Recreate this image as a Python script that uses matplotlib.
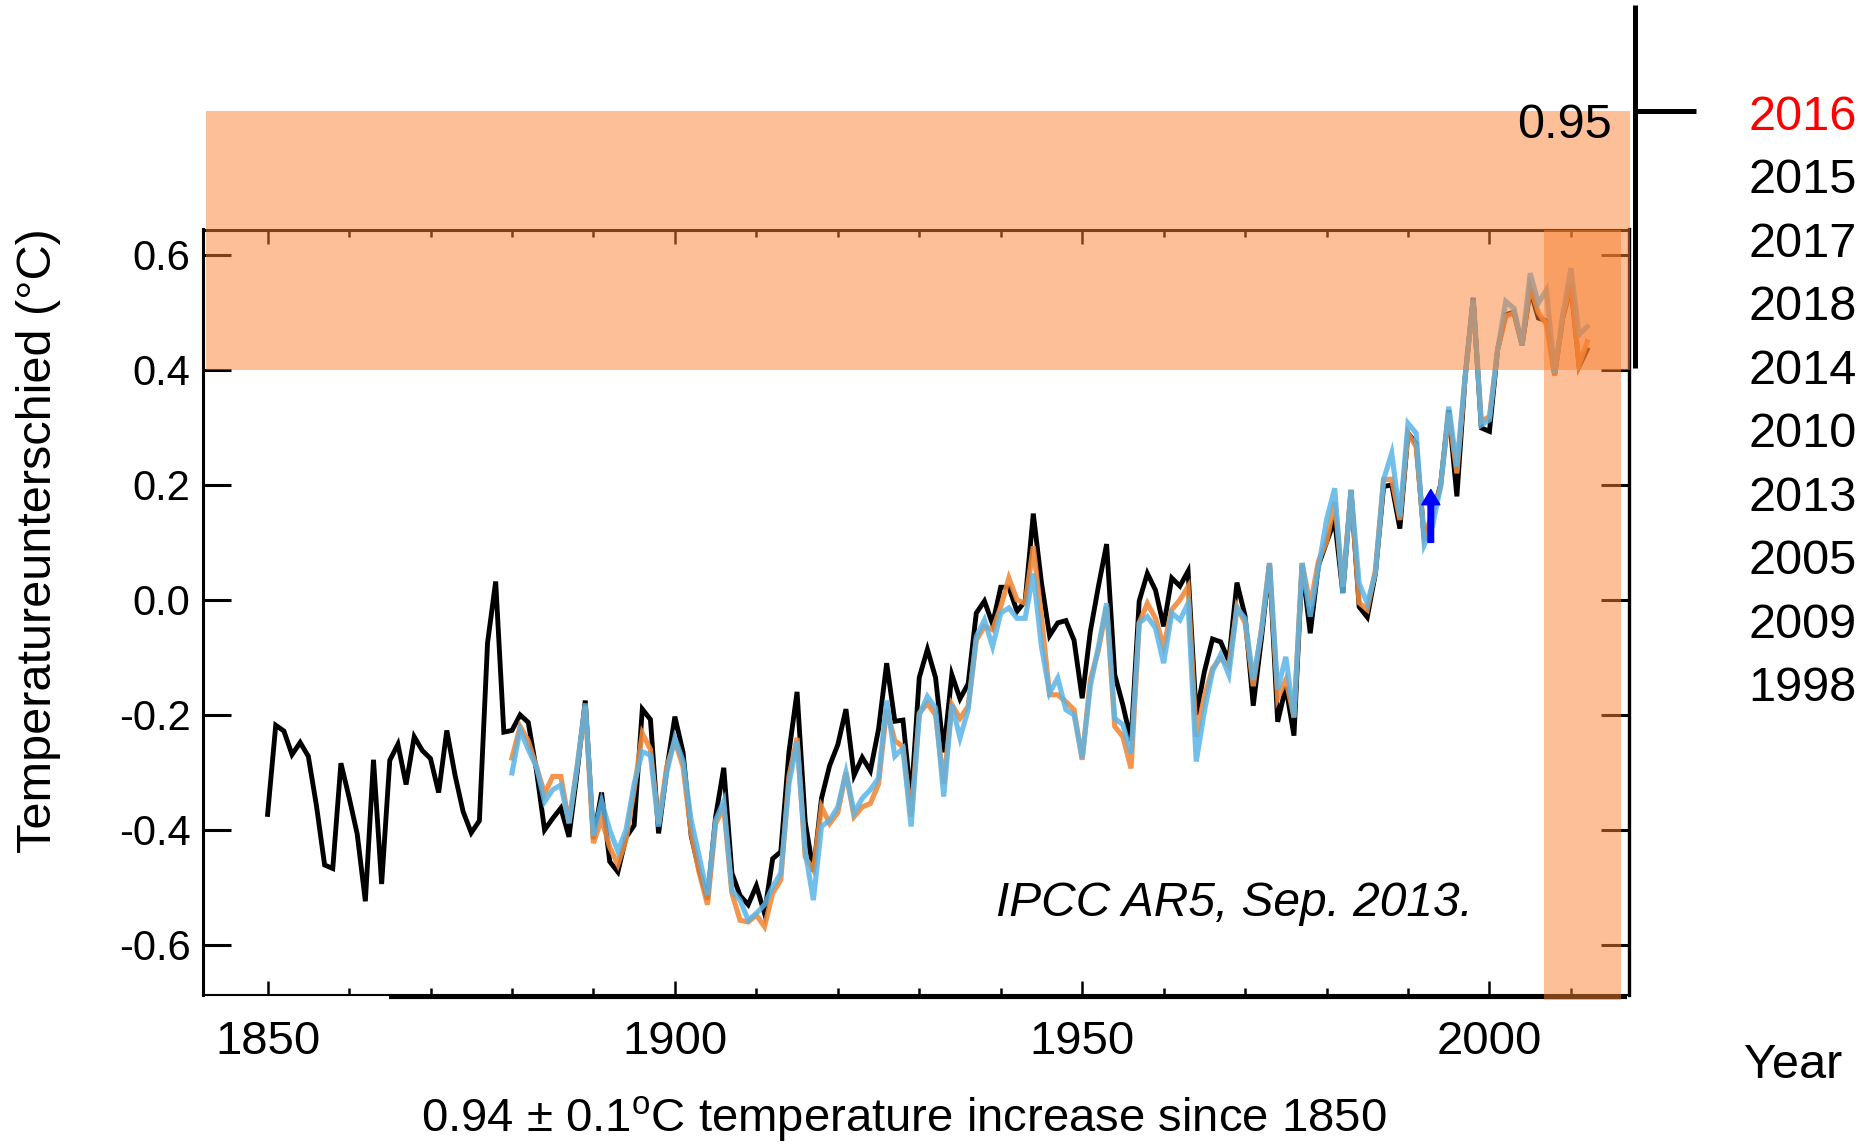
import matplotlib
matplotlib.use('Agg')
import matplotlib.pyplot as plt
from matplotlib.patches import Rectangle
from matplotlib.lines import Line2D
from matplotlib.ticker import MultipleLocator

plt.rcParams['font.family'] = ['Liberation Sans', 'DejaVu Sans']
plt.rcParams['mathtext.fontset'] = 'custom'
plt.rcParams['mathtext.rm'] = 'Liberation Sans'
plt.rcParams['mathtext.it'] = 'Liberation Sans:italic'

# ---------------- data ----------------
years_black = list(range(1850, 2013))
black_vals = [
    -0.373, -0.218, -0.228, -0.269, -0.248, -0.272, -0.358, -0.461, -0.467, -0.284,   # 1850-1859
    -0.343, -0.407, -0.524, -0.278, -0.494, -0.279, -0.251, -0.321, -0.238, -0.262,   # 1860-1869
    -0.276, -0.335, -0.227, -0.304, -0.368, -0.405, -0.384, -0.075, 0.032, -0.230,    # 1870-1879
    -0.227, -0.200, -0.213, -0.296, -0.400, -0.380, -0.362, -0.412, -0.300, -0.175,   # 1880-1889
    -0.416, -0.335, -0.455, -0.473, -0.413, -0.392, -0.190, -0.208, -0.406, -0.295,   # 1890-1899
    -0.203, -0.265, -0.410, -0.472, -0.521, -0.377, -0.292, -0.475, -0.514, -0.530,   # 1900-1909
    -0.497, -0.545, -0.450, -0.438, -0.265, -0.160, -0.386, -0.472, -0.345, -0.288,   # 1910-1919
    -0.252, -0.190, -0.305, -0.274, -0.297, -0.225, -0.110, -0.211, -0.209, -0.349,   # 1920-1929
    -0.135, -0.086, -0.135, -0.265, -0.130, -0.172, -0.146, -0.023, -0.002, -0.042,   # 1930-1939
    0.022, 0.022, -0.020, -0.002, 0.150, 0.030, -0.062, -0.040, -0.036, -0.070,       # 1940-1949
    -0.171, -0.055, 0.024, 0.097, -0.130, -0.183, -0.245, -0.002, 0.046, 0.017,       # 1950-1959
    -0.046, 0.038, 0.024, 0.050, -0.200, -0.125, -0.068, -0.073, -0.106, 0.030,       # 1960-1969
    -0.028, -0.184, -0.068, 0.062, -0.212, -0.151, -0.236, 0.060, -0.058, 0.060,      # 1970-1979
    0.100, 0.139, 0.012, 0.191, -0.012, -0.030, 0.046, 0.197, 0.200, 0.124,           # 1980-1989
    0.290, 0.272, 0.104, 0.148, 0.200, 0.330, 0.180, 0.385, 0.525, 0.299,             # 1990-1999
    0.293, 0.435, 0.496, 0.500, 0.443, 0.539, 0.490, 0.485, 0.391, 0.490,             # 2000-2009
    0.545, 0.406, 0.435,                                                              # 2010-2012
]

years_other = list(range(1880, 2013))
orange_vals = [
    -0.275, -0.220, -0.245, -0.290, -0.337, -0.307, -0.307, -0.388, -0.290, -0.185,   # 1880-1889
    -0.423, -0.381, -0.430, -0.460, -0.417, -0.330, -0.232, -0.260, -0.389, -0.290,   # 1890-1899
    -0.245, -0.290, -0.406, -0.475, -0.530, -0.389, -0.360, -0.510, -0.557, -0.560,   # 1900-1909
    -0.548, -0.568, -0.510, -0.487, -0.307, -0.240, -0.447, -0.470, -0.360, -0.389,   # 1910-1919
    -0.370, -0.300, -0.377, -0.360, -0.354, -0.320, -0.190, -0.245, -0.255, -0.377,   # 1920-1929
    -0.197, -0.180, -0.200, -0.320, -0.182, -0.206, -0.185, -0.070, -0.046, -0.052,   # 1930-1939
    -0.012, 0.038, 0.000, -0.006, 0.093, -0.029, -0.165, -0.165, -0.177, -0.191,      # 1940-1949
    -0.278, -0.139, -0.087, -0.012, -0.220, -0.238, -0.293, -0.040, -0.006, -0.032,   # 1950-1959
    -0.081, -0.017, 0.000, 0.023, -0.238, -0.168, -0.119, -0.101, -0.116, -0.012,     # 1960-1969
    -0.040, -0.150, -0.052, 0.064, -0.171, -0.139, -0.203, 0.064, -0.010, 0.067,      # 1970-1979
    0.101, 0.170, 0.023, 0.191, -0.005, -0.017, 0.052, 0.209, 0.210, 0.139,           # 1980-1989
    0.290, 0.266, 0.110, 0.150, 0.197, 0.325, 0.220, 0.385, 0.520, 0.310,             # 1990-1999
    0.319, 0.435, 0.493, 0.499, 0.443, 0.545, 0.500, 0.478, 0.391, 0.493,             # 2000-2009
    0.551, 0.409, 0.449,                                                              # 2010-2012
]
blue_vals = [
    -0.301, -0.226, -0.260, -0.290, -0.351, -0.330, -0.322, -0.388, -0.290, -0.180,   # 1880-1889
    -0.410, -0.350, -0.400, -0.437, -0.400, -0.320, -0.264, -0.270, -0.394, -0.300,   # 1890-1899
    -0.240, -0.280, -0.383, -0.447, -0.513, -0.383, -0.350, -0.505, -0.522, -0.557,   # 1900-1909
    -0.545, -0.530, -0.499, -0.475, -0.320, -0.246, -0.437, -0.522, -0.394, -0.383,   # 1910-1919
    -0.360, -0.300, -0.370, -0.345, -0.330, -0.310, -0.175, -0.272, -0.258, -0.394,   # 1920-1929
    -0.200, -0.168, -0.188, -0.342, -0.182, -0.240, -0.191, -0.064, -0.035, -0.081,   # 1930-1939
    -0.023, -0.014, -0.032, -0.032, 0.046, -0.081, -0.162, -0.136, -0.191, -0.200,    # 1940-1949
    -0.275, -0.150, -0.081, -0.006, -0.206, -0.217, -0.267, -0.040, -0.029, -0.049,   # 1950-1959
    -0.110, -0.023, -0.035, -0.006, -0.281, -0.194, -0.124, -0.095, -0.130, -0.014,   # 1960-1969
    -0.032, -0.139, -0.055, 0.064, -0.156, -0.099, -0.205, 0.064, -0.029, 0.055,      # 1970-1979
    0.139, 0.194, 0.012, 0.191, 0.029, -0.006, 0.046, 0.209, 0.255, 0.145,            # 1980-1989
    0.307, 0.290, 0.096, 0.128, 0.197, 0.336, 0.232, 0.388, 0.525, 0.304,            # 1990-1999
    0.313, 0.435, 0.519, 0.507, 0.443, 0.568, 0.516, 0.539, 0.394, 0.496,            # 2000-2009
    0.577, 0.461, 0.475,                                                              # 2010-2012
]

ytick_vals = [-0.6, -0.4, -0.2, 0.0, 0.2, 0.4, 0.6]
ytick_labels = ['-0.6', '-0.4', '-0.2', '0.0', '0.2', '0.4', '0.6']
xtick_major = [1850, 1900, 1950, 2000]
xtick_labels = ['1850', '1900', '1950', '2000']

ranking_years = ['2016', '2015', '2017', '2018', '2014', '2010', '2013', '2005', '2009', '1998']
ranking_colors = ['#FF0000'] + ['black'] * 9

band_value = '0.95'
arrow_year, arrow_from, arrow_to = 1992.8, 0.100, 0.192

# ---------------- figure ----------------
W, H = 1873, 1145
fig = plt.figure(figsize=(W / 100, H / 100), dpi=100)


def fx(px):
    return px / W


def fy(py):
    return 1 - py / H


ax = fig.add_axes([fx(203), fy(995), fx(1629) - fx(203), fy(229.5) - fy(995)])

ax.plot(years_black, black_vals, color='black', lw=3.5, zorder=3, solid_joinstyle='miter')
ax.plot(years_other, orange_vals, color='#F08A3C', lw=3.7, alpha=0.9, zorder=4, solid_joinstyle='miter')
ax.plot(years_other, blue_vals, color='#5AB4E8', lw=3.7, alpha=0.85, zorder=5, solid_joinstyle='miter')

ax.annotate('', xy=(arrow_year, arrow_to), xytext=(arrow_year, arrow_from),
            arrowprops=dict(facecolor='#0000FF', edgecolor='#0000FF', width=4.0,
                            headwidth=13, headlength=11, shrink=0), zorder=6)

band_col = (250 / 255, 128 / 255, 50 / 255, 0.5)
ax.add_patch(Rectangle((1842.44, 0.4), 2017.25 - 1842.44, 0.850 - 0.4, facecolor=band_col,
                       edgecolor='none', clip_on=False, zorder=10))
ax.add_patch(Rectangle((2006.69, -0.696), 2016.14 - 2006.69, 0.644 + 0.696, facecolor=band_col,
                       edgecolor='none', clip_on=False, zorder=10))

# thick bottom baseline segment
ax.plot([1864.9, 2016.9], [-0.6905, -0.6905], color='black', lw=3.0, clip_on=False,
        zorder=9, solid_capstyle='butt')

ax.set_xlim(1842.07, 2017.13)
ax.set_ylim(-0.687, 0.644)

ax.set_xticks(xtick_major)
ax.set_xticklabels(xtick_labels)
ax.xaxis.set_minor_locator(MultipleLocator(10))
ax.set_yticks(ytick_vals)
ax.set_yticklabels(ytick_labels)

ax.tick_params(axis='x', which='major', direction='in', length=10, width=1.8, top=True,
               labelsize=34, pad=18)
ax.tick_params(axis='x', which='minor', direction='in', length=5, width=1.8, top=True)
ax.tick_params(axis='y', which='major', direction='in', length=20, width=2.2, right=True,
               labelsize=30, pad=9)

for s, lw in (('left', 2.2), ('top', 2.2), ('right', 2.4), ('bottom', 1.5)):
    ax.spines[s].set_linewidth(lw)

# ---------------- texts ----------------
fig.text(fx(39), fy(541), 'Temperatureunterschied (°C)', rotation=90, ha='center',
         va='center', fontsize=35)
fig.text(fx(904), fy(1119), '0.94 ± 0.1$^{\\rm o}$C temperature increase since 1850',
         ha='center', va='center', fontsize=34)
fig.text(fx(1234), fy(903), 'IPCC AR5, Sep. 2013.', ha='center', va='center',
         fontsize=34.5, style='italic')
fig.text(fx(1793), fy(1065), 'Year', ha='center', va='center', fontsize=35)

for i, (yr, c) in enumerate(zip(ranking_years, ranking_colors)):
    fig.text(fx(1857), fy(117.5 + i * 63.45), yr, ha='right', va='center', fontsize=35,
             color=c)

fig.text(fx(1612), fy(126), band_value, ha='right', va='center', fontsize=35, zorder=20)
fig.add_artist(Line2D([fx(1635), fx(1635)], [fy(5), fy(368)], transform=fig.transFigure,
                      color='black', lw=3.6, solid_capstyle='butt'))
fig.add_artist(Line2D([fx(1635), fx(1696)], [fy(111), fy(111)], transform=fig.transFigure,
                      color='black', lw=3.6, solid_capstyle='butt'))

fig.savefig('out.png', dpi=100)
